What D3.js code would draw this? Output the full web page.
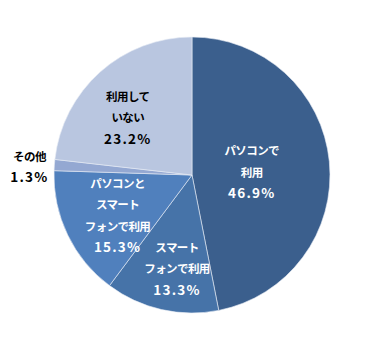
<!DOCTYPE html>
<html>
<head>
<meta charset="utf-8">
<script src="https://cdn.jsdelivr.net/npm/d3@7"></script>
<style>
  body { margin: 0; background: #fff; }
  text { font-family: "Noto Sans CJK JP", sans-serif; font-weight: bold; font-size: 11.5px; }
  tspan.kana { letter-spacing: -0.6px; }
  tspan.pct { font-size: 13.5px; letter-spacing: 1.2px; }
</style>
</head>
<body>
<div id="chart"></div>
<script>
const categories = ["パソコンで利用", "スマートフォンで利用", "パソコンとスマートフォンで利用", "その他", "利用していない"];
const values = [46.9, 13.3, 15.3, 1.3, 23.2];
// label lines as shown in the chart
const labelLines = [
    ["パソコンで", "利用"],
    ["スマート", "フォンで利用"],
    ["パソコンと", "スマート", "フォンで利用"],
    ["その他"],
    ["利用して", "いない"]
];

const width = 383, height = 351,
      cx = 192, cy = 175, radius = 138;

const colors = ["#3b5f8d", "#4673a8", "#5080bd", "#94a8d2", "#b9c6e0"];
const textColors = ["#fff", "#fff", "#fff", "#000", "#000"];
const labelRadius = [60, 95, 86, 163, 86]; // distance of each label from the centre
const labelNudge = [[0, 3], [6, 1], [3, 3], [0, 4], [-7, 7]]; // small tweaks to match placement

const data = categories.map((c, i) => ({ name: c, value: values[i], lines: labelLines[i] }));

let svg = d3.select("#chart")
    .append("svg")
    .attr("width", width)
    .attr("height", height);

let pie = d3.pie()
    .value(d => d.value)
    .sort(null);

let arc = d3.arc()
    .innerRadius(0)
    .outerRadius(radius);

let g = svg.append("g")
    .attr("transform", `translate(${cx},${cy})`);

let arcs = pie(data);

g.selectAll("path") // slices
    .data(arcs)
    .join("path")
    .attr("d", arc)
    .attr("fill", (d, i) => colors[i])
    .attr("stroke", "#e8edf5")
    .attr("stroke-width", 0.6);

let lineH = 21.5;

let label = g.selectAll(".label")
    .data(arcs)
    .join("text")
    .attr("class", "label")
    .attr("text-anchor", "middle")
    .attr("fill", (d, i) => textColors[i])
    .attr("transform", (d, i) => {
        let r = labelRadius[i];
        let [x, y] = d3.arc().innerRadius(r).outerRadius(r).centroid(d);
        return `translate(${x + labelNudge[i][0]},${y + labelNudge[i][1]})`;
    });

label.each(function(d) {
    let lines = d.data.lines.concat([d.data.value.toFixed(1) + "%"]);
    let t = d3.select(this);
    lines.forEach((s, k) => {
        t.append("tspan")
            .attr("class", k === lines.length - 1 ? "pct" : "kana")
            .attr("x", 0)
            .attr("y", (k - (lines.length - 1) / 2) * lineH + 4.5)
            .text(s);
    });
});
</script>
</body>
</html>
